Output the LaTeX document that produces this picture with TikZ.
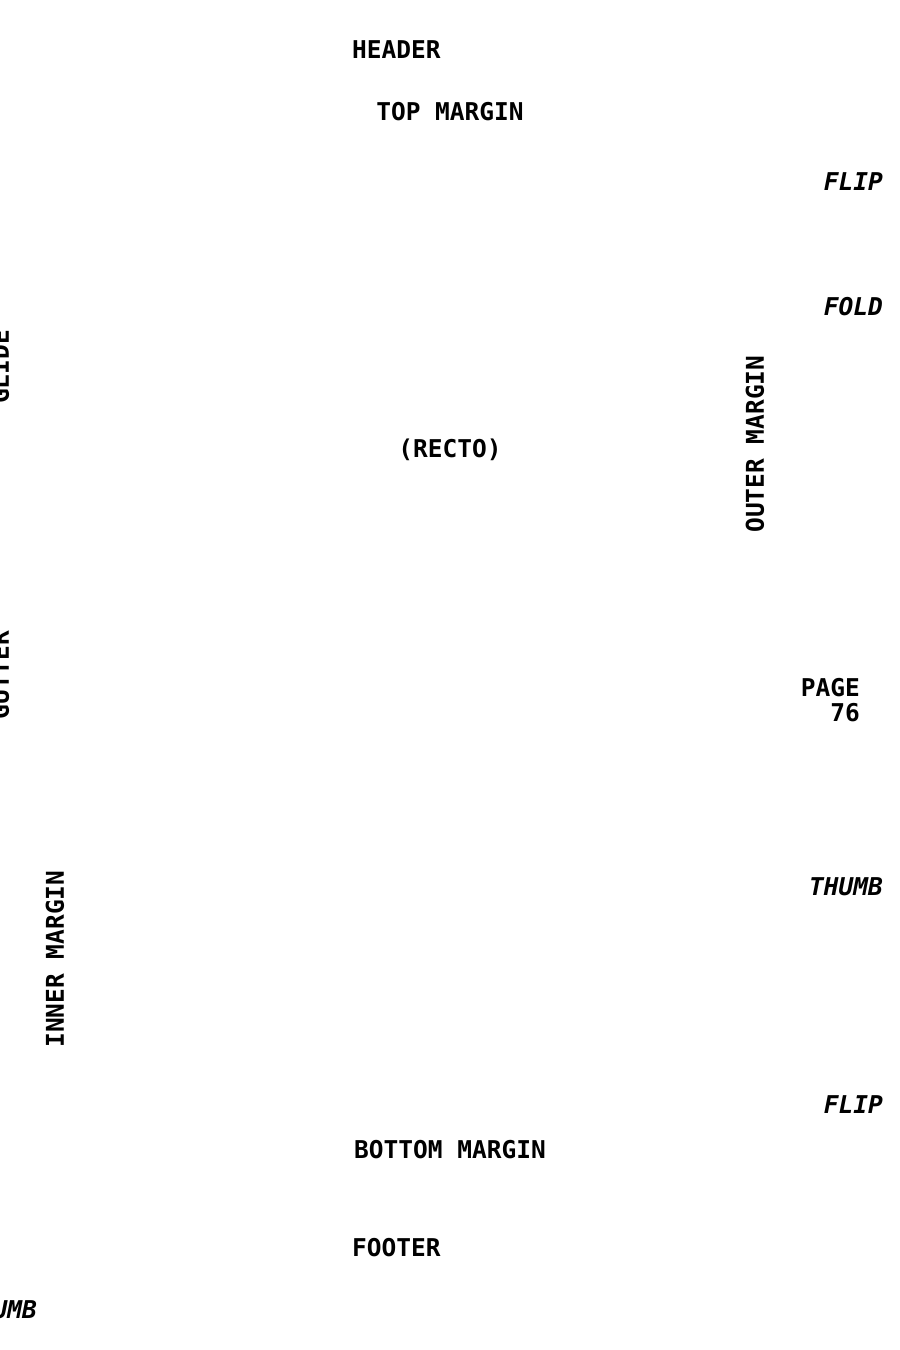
\documentclass[tikz,border=0pt]{standalone}
\usepackage{fontspec}
\newfontfamily\monob[BoldFont={DejaVu Sans Mono Bold},BoldItalicFont={DejaVu Sans Mono Bold Oblique}]{DejaVu Sans Mono}
\begin{document}
\begin{tikzpicture}[x=1pt,y=-1pt,
  lbl/.style={font=\monob\bfseries\fontsize{24.5}{25}\selectfont, inner sep=0pt, text=black},
  ilbl/.style={font=\monob\bfseries\itshape\fontsize{24.5}{25}\selectfont, inner sep=0pt, text=black},
  vlbl/.style={lbl, rotate=90}]
\clip (0,0) rectangle (900,1350);
\fill[white] (0,0) rectangle (900,1350);
\node[lbl, anchor=west] (header) at (352,50) {HEADER};
\node[lbl] (topm) at (450,112) {TOP MARGIN};
\node[ilbl, anchor=east] (flip1) at (883,182) {FLIP};
\node[ilbl, anchor=east] (fold) at (883,307) {FOLD};
\node[vlbl] (glide) at (0,367) {GLIDE};
\node[lbl] (recto) at (450,450) {(RECTO)};
\node[vlbl] (outer) at (755,444) {OUTER MARGIN};
\node[vlbl] (gutter) at (0,675) {GUTTER};
\node[lbl, anchor=east, align=right] (page) at (860,700) {PAGE\\76};
\node[ilbl, anchor=east] (thumb1) at (883,887) {THUMB};
\node[vlbl] (inner) at (55,959) {INNER MARGIN};
\node[ilbl, anchor=east] (flip2) at (883,1105) {FLIP};
\node[lbl] (botm) at (450,1150) {BOTTOM MARGIN};
\node[lbl, anchor=west] (footer) at (352,1248) {FOOTER};
\node[ilbl] (thumb2) at (0,1310) {THUMB};
\end{tikzpicture}
\end{document}
